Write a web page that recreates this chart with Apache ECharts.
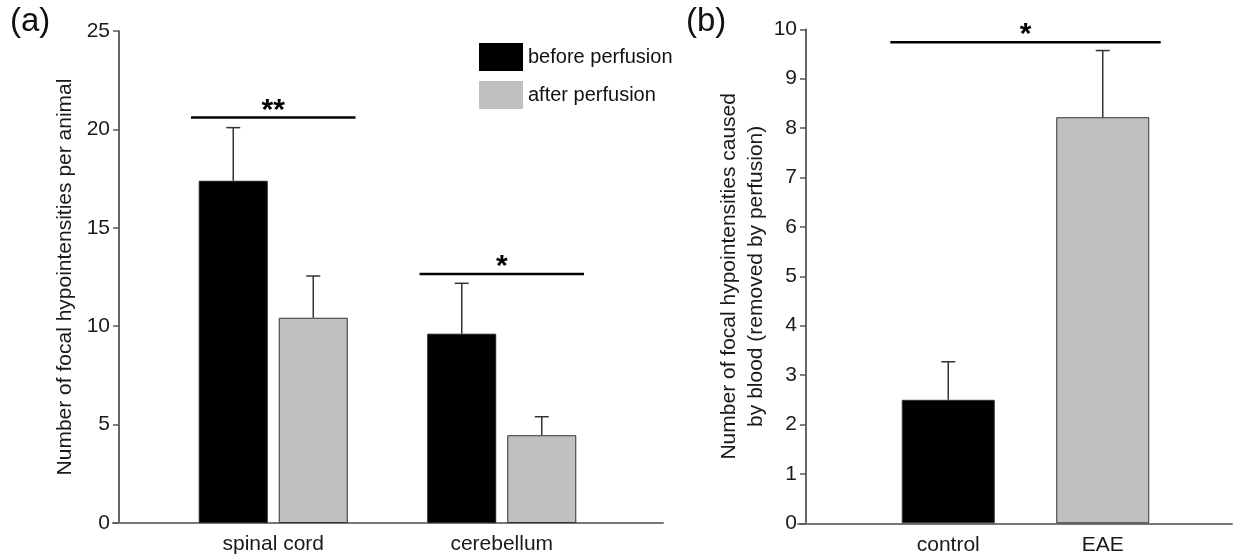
<!DOCTYPE html>
<html>
<head>
<meta charset="utf-8">
<title>Focal hypointensities</title>
<script src="https://cdn.jsdelivr.net/npm/echarts@6/dist/echarts.min.js"></script>
<style>
    html, body { margin: 0; padding: 0; background: #fff; }
    #chart { width: 1237px; height: 559px; }
</style>
</head>
<body>
<div id="chart"></div>
<script>
    // panel (a)
    const categoriesA = ['spinal cord', 'cerebellum'];
    const beforeA = [17.39, 9.62];
    const afterA = [10.43, 4.46];
    const beforeSemA = [2.70, 2.56];
    const afterSemA = [2.12, 0.94];
    const yTicksA = [0, 5, 10, 15, 20, 25];
    // [first category, last category, height, label]
    const sigA = [[0, 0, 20.61, '**'], [1, 1, 12.65, '*']];

    // panel (b)
    const categoriesB = ['control', 'EAE'];
    const valuesB = [2.50, 8.22];
    const semB = [0.77, 1.35];
    const yTicksB = [0, 1, 2, 3, 4, 5, 6, 7, 8, 9, 10];
    const sigB = [[0, 1, 9.74, '*']];

    const FONT = 'Liberation Sans, Arial, sans-serif';
    const BLACK = '#000000';
    const GREY = '#c0c0c0';

    function errorRenderer(offset) {
        return function (params, api) {
            let i = api.value(0);
            let base = api.coord([i, api.value(1)]);
            let top = api.coord([i, api.value(1) + api.value(2)]);
            let x = base[0] + offset;
            return {
                type: 'group',
                children: [
                    {type: 'line', shape: {x1: x, y1: base[1], x2: x, y2: top[1]}, style: {stroke: '#333', lineWidth: 1.5}},
                    {type: 'line', shape: {x1: x - 7, y1: top[1], x2: x + 7, y2: top[1]}, style: {stroke: '#333', lineWidth: 1.5}}
                ]
            };
        };
    }

    function sigRenderer(list, frac) {
        return function (params, api) {
            let a = api.coord([api.value(0), api.value(2)]);
            let b = api.coord([api.value(1), api.value(2)]);
            let ext = api.size([1, 0])[0] * frac;
            return {
                type: 'group',
                children: [
                    {type: 'line', shape: {x1: a[0] - ext, y1: a[1], x2: b[0] + ext, y2: a[1]}, style: {stroke: '#000', lineWidth: 2.5}},
                    {
                        type: 'text', x: (a[0] + b[0]) / 2, y: a[1] - 7,
                        style: {text: list[params.dataIndex][3], fontSize: 30, fontWeight: 'bold', fontFamily: FONT,
                            fill: '#000', align: 'center', verticalAlign: 'middle'}
                    }
                ]
            };
        };
    }

    function valueAxis(grid, ticks, offset, name, nameGap) {
        return {
            type: 'value', gridIndex: grid,
            min: ticks[0], max: ticks[ticks.length - 1], interval: ticks[1] - ticks[0],
            offset: offset,
            name: name, nameLocation: 'middle', nameGap: nameGap, nameRotate: 90,
            nameTextStyle: {fontSize: 21, fontFamily: FONT, color: '#1a1a1a', lineHeight: 27},
            axisLine: {show: true, lineStyle: {color: '#333', width: 1.5}},
            axisTick: {show: true, length: 6, lineStyle: {color: '#555', width: 1.5}},
            axisLabel: {fontSize: 21, fontFamily: FONT, color: '#1a1a1a', margin: 9},
            splitLine: {show: false}
        };
    }

    function catAxis(grid, data) {
        return {
            type: 'category', gridIndex: grid, data: data,
            axisLine: {show: false}, axisTick: {show: false},
            axisLabel: {fontSize: 21, fontFamily: FONT, color: '#1a1a1a', margin: 11}
        };
    }

    function baseLine(grid) {
        return {
            type: 'value', gridIndex: grid, min: 0, max: 1,
            axisLine: {show: true, onZero: false, lineStyle: {color: '#777', width: 2}},
            axisTick: {show: false}, axisLabel: {show: false}, splitLine: {show: false}
        };
    }

    function hiddenY(grid) {
        return {type: 'value', gridIndex: grid, show: false, min: 0, max: 1};
    }

    let chart = echarts.init(document.getElementById('chart'));
    chart.setOption({
        backgroundColor: '#fff',
        animation: false,
        textStyle: {fontFamily: FONT},
        title: [
            {text: '(a)', left: 5, top: 0, textStyle: {fontSize: 33, fontWeight: 'normal', color: '#111'}},
            {text: '(b)', left: 681, top: 0, textStyle: {fontSize: 33, fontWeight: 'normal', color: '#111'}}
        ],
        legend: {
            left: 474, top: 38, orient: 'vertical',
            itemWidth: 44, itemHeight: 28, itemGap: 10,
            icon: 'rect',
            data: ['before perfusion', 'after perfusion'],
            itemStyle: {borderWidth: 0},
            textStyle: {fontSize: 20, fontFamily: FONT, color: '#111'}
        },
        grid: [
            {left: 159, top: 31, width: 457, height: 492},
            {left: 113, top: 31, width: 550, height: 492},
            {left: 871, top: 29.3, width: 309, height: 494},
            {left: 798, top: 29.3, width: 434, height: 494}
        ],
        xAxis: [catAxis(0, categoriesA), baseLine(1), catAxis(2, categoriesB), baseLine(3)],
        yAxis: [
            valueAxis(0, yTicksA, 40, 'Number of focal hypointensities per animal', 40),
            hiddenY(1),
            valueAxis(2, yTicksB, 65, 'Number of focal hypointensities caused\nby blood (removed by perfusion)', 32),
            hiddenY(3)
        ],
        series: [
            {
                name: 'before perfusion', type: 'bar', xAxisIndex: 0, yAxisIndex: 0,
                data: beforeA, barWidth: 69, barGap: '16%',
                itemStyle: {color: BLACK, borderColor: '#222', borderWidth: 1}, z: 3
            },
            {
                name: 'after perfusion', type: 'bar', xAxisIndex: 0, yAxisIndex: 0,
                data: afterA, barWidth: 69, barGap: '16%',
                itemStyle: {color: GREY, borderColor: '#333', borderWidth: 1}, z: 3
            },
            {
                type: 'custom', xAxisIndex: 0, yAxisIndex: 0, z: 2,
                renderItem: errorRenderer(-40),
                data: categoriesA.map((c, i) => [i, beforeA[i], beforeSemA[i]])
            },
            {
                type: 'custom', xAxisIndex: 0, yAxisIndex: 0, z: 2,
                renderItem: errorRenderer(40),
                data: categoriesA.map((c, i) => [i, afterA[i], afterSemA[i]])
            },
            {
                type: 'custom', xAxisIndex: 0, yAxisIndex: 0, z: 4,
                renderItem: sigRenderer(sigA, 0.36),
                data: sigA.map(s => [s[0], s[1], s[2]])
            },
            {
                type: 'bar', xAxisIndex: 2, yAxisIndex: 2,
                data: valuesB, barWidth: 93,
                itemStyle: {
                    color: p => (p.dataIndex === 0 ? BLACK : GREY),
                    borderColor: '#333', borderWidth: 1
                },
                z: 3
            },
            {
                type: 'custom', xAxisIndex: 2, yAxisIndex: 2, z: 2,
                renderItem: errorRenderer(0),
                data: categoriesB.map((c, i) => [i, valuesB[i], semB[i]])
            },
            {
                type: 'custom', xAxisIndex: 2, yAxisIndex: 2, z: 4,
                renderItem: sigRenderer(sigB, 0.375),
                data: sigB.map(s => [s[0], s[1], s[2]])
            }
        ]
    });
</script>
</body>
</html>
